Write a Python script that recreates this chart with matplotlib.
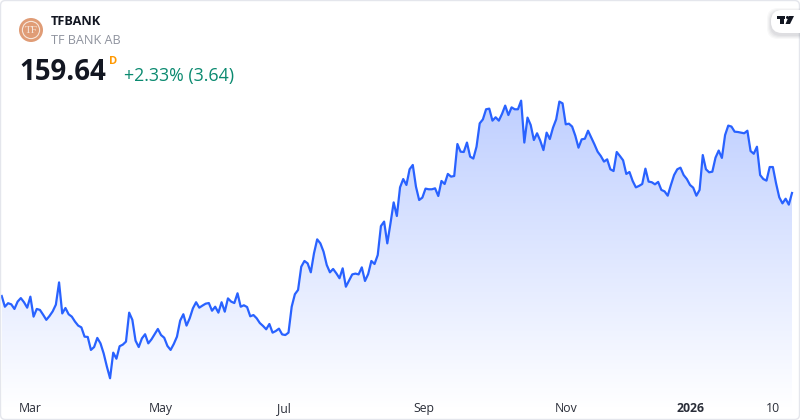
import numpy as np
import matplotlib
matplotlib.use("Agg")
import matplotlib.pyplot as plt
from matplotlib.patches import Circle, FancyBboxPatch, Polygon, Rectangle
from matplotlib.colors import LinearSegmentedColormap

# daily close
prices = [
    127.45, 124.1, 125.2, 124.85, 123.4, 125.7, 126.8, 125.5, 123.8, 127.25,
    121.0, 123.4, 123.1, 121.6, 120.0, 121.2, 122.65, 124.75, 131.7, 122.0,
    123.7, 121.75, 121.0, 119.45, 118.2, 117.65, 114.75, 114.65, 110.6, 111.5,
    114.35, 112.65, 109.5, 105.4, 101.75, 109.75, 107.85, 111.75, 112.25, 113.2,
    122.25, 120.0, 113.5, 111.5, 114.2, 115.5, 112.65, 113.9, 115.5, 117.15,
    115.25, 114.4, 111.85, 110.6, 112.45, 114.75, 119.75, 121.75, 118.2, 120.5,
    123.6, 125.5, 123.8, 124.45, 125.05, 125.25, 122.85, 124.1, 122.25, 125.5,
    122.55, 126.7, 125.7, 125.25, 128.3, 124.1, 124.55, 124.0, 121.1, 121.5,
    120.5, 119.0, 118.1, 117.05, 118.7,
    116.0, 116.5, 117.25, 115.45, 115.25, 116.0, 124.1, 128.0, 129.35, 136.6,
    138.4, 137.65, 134.85, 140.8, 145.15, 143.9, 141.3, 137.15, 134.85, 135.9,
    134.55, 133.0, 136.1, 130.35, 132.25, 134.2, 134.45, 134.2, 136.4, 132.15,
    134.3, 138.4, 137.45, 140.25, 149.3, 150.7, 143.9, 150.15, 156.7, 152.45,
    161.4, 164.0, 162.15, 167.05, 168.4, 161.6, 157.45, 158.2, 161.0, 160.8,
    160.8, 161.1, 158.7, 163.4, 162.45, 165.6, 164.75, 164.95, 174.95, 172.55,
    172.45, 175.4, 171.0, 170.4, 174.1, 181.4, 182.65, 185.8, 186.0, 182.25,
    183.3, 182.25, 184.35, 186.95, 184.0, 186.4, 185.8, 185.8, 188.5, 175.4,
    183.2, 180.9, 176.2, 178.3, 176.0,
    173.05, 178.5, 176.5, 180.05, 182.65, 188.2, 187.65, 181.1, 181.3, 180.4,
    177.55, 173.8, 176.4, 176.6, 179.1, 176.95, 174.85, 172.55, 171.2, 169.45,
    170.15, 167.05, 166.5, 172.45, 171.2, 169.85, 165.6, 166.2, 163.4, 161.4,
    161.85, 162.45, 167.25, 163.2, 163.0, 162.35, 163.1, 160.6, 160.15, 158.8,
    162.15, 165.25, 167.05, 167.55, 165.25, 164.0, 162.15, 161.3, 158.8, 160.6,
    171.5, 167.05, 166.1, 166.3, 170.7, 172.9, 170.6, 177.75, 180.7, 180.4,
    178.8, 178.7, 178.5, 178.3, 179.1, 172.75, 171.9, 174.1, 165.25, 164.0,
    163.5, 167.75, 167.75, 162.65, 158.3, 156.4, 157.85, 156.0, 159.64,
]
tick_labels = ["Mar", "May", "Jul", "Sep", "Nov", "2026", "10"]
tick_days = [9, 50, 88.5, 132.5, 177, 216, 242]

days = np.arange(len(prices))
LINE = "#2962FF"

fig = plt.figure(figsize=(8, 4.2), dpi=100)
plt.rcParams["font.family"] = ["Open Sans", "DejaVu Sans"]

# price pane fills the whole figure, scale chosen so the series lands where it does in the widget
ax = fig.add_axes([0, 0, 1, 1])
px_per_day = (792 - 1.7) / (len(prices) - 1)
for s in ax.spines.values():
    s.set_visible(False)

# gradient area under the line
cmap = LinearSegmentedColormap.from_list("area", ["#FFFFFF", "#BFCFFF"])
y_bottom = 92.5
im = ax.imshow(np.linspace(1, 0, 256).reshape(-1, 1), cmap=cmap, aspect="auto",
               extent=[days[0], days[-1], y_bottom, max(prices)], zorder=1, vmin=0, vmax=1)
area = ax.fill_between(days, prices, y_bottom, color="none", zorder=1)
im.set_clip_path(area.get_paths()[0], transform=ax.transData)
ax.set_xlim(-1.7 / px_per_day, (800 - 1.7) / px_per_day)
ax.set_ylim(88.7, 219.95)

ax.plot(days, prices, color=LINE, lw=1.6, zorder=2, solid_joinstyle="round")

ax.set_yticks([])
ax.set_xticks(tick_days)
ax.set_xticklabels(tick_labels, fontsize=8.8, color="#2A2E39")
ax.tick_params(axis="x", length=0, pad=-13)
ax.get_xticklabels()[5].set_fontweight("bold")

# header and decorations in pixel coordinates
deco = fig.add_axes([0, 0, 1, 1], facecolor="none")
deco.set_xlim(0, 800)
deco.set_ylim(420, 0)
deco.axis("off")

deco.add_patch(FancyBboxPatch((0.5, 0.5), 799, 419, boxstyle="round,pad=0,rounding_size=5",
                              fc="none", ec="#E4E6EC", lw=1.0, clip_on=False))

deco.add_patch(Circle((31, 30), 12, fc="#E09C76", ec="none"))
deco.add_patch(Circle((31, 30), 8.6, fc="none", ec="#F7E6DB", lw=0.8))
deco.text(31, 30.3, "TF", fontsize=8, color="#F7E6DB", family="Liberation Serif",
          ha="center", va="center")

deco.text(51, 21.5, "TFBANK", fontsize=9.2, fontweight="bold", color="#131722", va="center")
deco.text(51, 40.5, "TF BANK AB", fontsize=9.1, color="#8F939E", va="center")
deco.text(19.5, 72, "159.64", fontsize=19.9, fontweight="bold", color="#131722", va="center")
deco.text(109, 61, "D", fontsize=8, fontweight="bold", color="#FF9800", va="center")
deco.text(124, 75.5, "+2.33% (3.64)", fontsize=12.8, color="#0B8A70", va="center")

# TradingView badge, soft shadow first
for off, a in [(4, 0.05), (3, 0.06), (2, 0.07), (1, 0.08)]:
    deco.add_patch(FancyBboxPatch((771 - off, 10 - off + 2), 40 + off, 23 + 2 * off,
                                  boxstyle="round,pad=0,rounding_size=11", fc="#787B86", ec="none", alpha=a))
deco.add_patch(FancyBboxPatch((771, 10), 40, 23, boxstyle="round,pad=0,rounding_size=11",
                              fc="white", ec="none"))
deco.add_patch(Rectangle((777, 16), 8, 3, fc="#131722", ec="none"))
deco.add_patch(Rectangle((780, 16), 4, 8, fc="#131722", ec="none"))
deco.add_patch(Circle((787.5, 17.5), 1.5, fc="#131722", ec="none"))
deco.add_patch(Polygon([[789, 16], [794, 16], [790, 24], [785.5, 24]], fc="#131722", ec="none"))

fig.savefig("out.png", dpi=100, facecolor="white")
